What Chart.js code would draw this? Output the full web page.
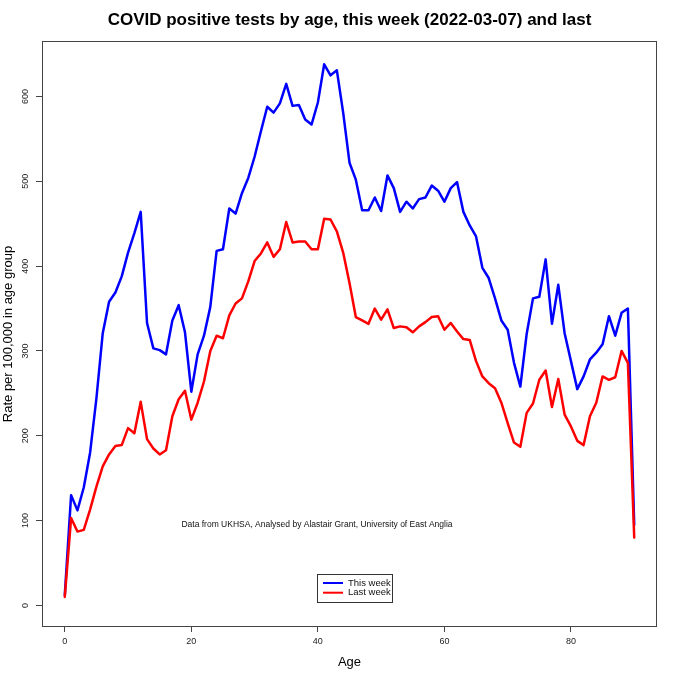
<!DOCTYPE html>
<html><head><meta charset="utf-8">
<script src="https://cdn.jsdelivr.net/npm/chart.js@4.4.1/dist/chart.umd.min.js"></script>
<style>html,body{margin:0;padding:0;background:#fff}</style>
</head><body>
<canvas id="c" width="680" height="680"></canvas>
<script>
const ages=[0,1,2,3,4,5,6,7,8,9,10,11,12,13,14,15,16,17,18,19,20,21,22,23,24,25,26,27,28,29,30,31,32,33,34,35,36,37,38,39,40,41,42,43,44,45,46,47,48,49,50,51,52,53,54,55,56,57,58,59,60,61,62,63,64,65,66,67,68,69,70,71,72,73,74,75,76,77,78,79,80,81,82,83,84,85,86,87,88,89,90];
const thisWeek=[12,130,112,139,180,244,321,358,369,388,416,439,464,333,303,301,296,336,354,322,252,296,318,352,418,420,468,462,486,504,529,559,588,581,592,615,589,590,573,567,593,638,625,631,581,522,502,466,466,481,465,507,492,464,476,468,479,481,495,489,476,492,499,464,448,435,398,386,362,336,325,286,258,320,362,364,408,332,378,321,288,255,270,290,298,308,341,318,345,350,95];
const lastWeek=[10,103,87,89,113,140,164,178,188,189,209,203,240,196,185,178,183,223,243,253,219,239,264,300,318,315,342,356,362,382,406,415,428,411,420,452,428,429,429,420,420,456,455,441,416,380,340,336,332,350,337,349,327,329,328,322,329,334,340,341,325,333,323,314,313,288,270,262,256,239,215,192,187,227,238,266,277,234,267,225,211,194,189,223,239,270,266,269,300,286,80];
const xTicks=[0,20,40,60,80];
const yTicks=[0,100,200,300,400,500,600];
const seriesNames=['This week','Last week'];
const titleText='COVID positive tests by age, this week (2022-03-07) and last';
const noteText='Data from UKHSA, Analysed by Alastair Grant, University of East Anglia';
const FONT='"Liberation Sans", Arial, sans-serif';

const decor={id:'decor',afterDraw(chart){
  const {ctx,chartArea:a}=chart;
  ctx.save();
  ctx.strokeStyle='#444';ctx.lineWidth=1;
  ctx.strokeRect(a.left+0.5,a.top+0.5,a.right-a.left-1,a.bottom-a.top-1);
  ctx.fillStyle='#000';ctx.textAlign='center';ctx.textBaseline='middle';
  ctx.font='bold 17px '+FONT;
  ctx.fillText(titleText,(a.left+a.right)/2,20);
  ctx.font='8.5px '+FONT;ctx.fillStyle='#111';
  ctx.fillText(noteText,317,525);
  // legend
  const lx=317.5,ly=574.5,lw=75,lh=28;
  ctx.fillStyle='#fff';ctx.fillRect(lx,ly,lw,lh);
  ctx.strokeStyle='#333';ctx.strokeRect(lx,ly,lw,lh);
  const cols=['#0000ff','#ff0000'];
  ctx.lineWidth=2;ctx.textAlign='left';ctx.font='9.5px '+FONT;
  for(let i=0;i<2;i++){
    const yy=583+i*9.7;
    ctx.strokeStyle=cols[i];ctx.beginPath();ctx.moveTo(323,yy);ctx.lineTo(343,yy);ctx.stroke();
    ctx.fillStyle='#111';ctx.fillText(seriesNames[i],348,yy);
  }
  ctx.restore();
}};

new Chart(document.getElementById('c'),{
  type:'line',
  data:{datasets:[
    {label:seriesNames[0],data:ages.map((a,i)=>({x:a,y:thisWeek[i]})),borderColor:'#0000ff',borderWidth:2.5,pointRadius:0,tension:0,order:2,borderJoinStyle:'round',borderCapStyle:'round'},
    {label:seriesNames[1],data:ages.map((a,i)=>({x:a,y:lastWeek[i]})),borderColor:'#ff0000',borderWidth:2.5,pointRadius:0,tension:0,order:1,borderJoinStyle:'round',borderCapStyle:'round'}
  ]},
  options:{
    responsive:false,animation:false,devicePixelRatio:1,
    layout:{autoPadding:false,padding:{top:41,right:23,left:0,bottom:0}},
    plugins:{legend:{display:false},tooltip:{enabled:false},title:{display:false}},
    scales:{
      x:{type:'linear',min:-3.6,max:93.6,
        afterBuildTicks:s=>{s.ticks=xTicks.map(v=>({value:v}));},
        afterFit:s=>{s.height=53;},
        grid:{drawOnChartArea:false,drawTicks:true,tickLength:5,color:'#444'},
        border:{display:false},
        ticks:{font:{family:FONT,size:9},color:'#222',padding:4,maxRotation:0,autoSkip:false},
        title:{display:true,text:'Age',font:{family:FONT,size:13},color:'#000',padding:{top:0,bottom:10}}
      },
      y:{type:'linear',min:-25.5,max:665.5,
        afterBuildTicks:s=>{s.ticks=yTicks.map(v=>({value:v}));},
        afterFit:s=>{s.width=42;},
        grid:{drawOnChartArea:false,drawTicks:true,tickLength:6,color:'#444'},
        border:{display:false},
        ticks:{font:{family:FONT,size:9},color:'#222',padding:3,minRotation:90,maxRotation:90,crossAlign:'center',autoSkip:false},
        title:{display:true,text:'Rate per 100,000 in age group',font:{family:FONT,size:13},color:'#000',padding:{top:1,bottom:0}}
      }
    }
  },
  plugins:[decor]
});
</script>
</body></html>
